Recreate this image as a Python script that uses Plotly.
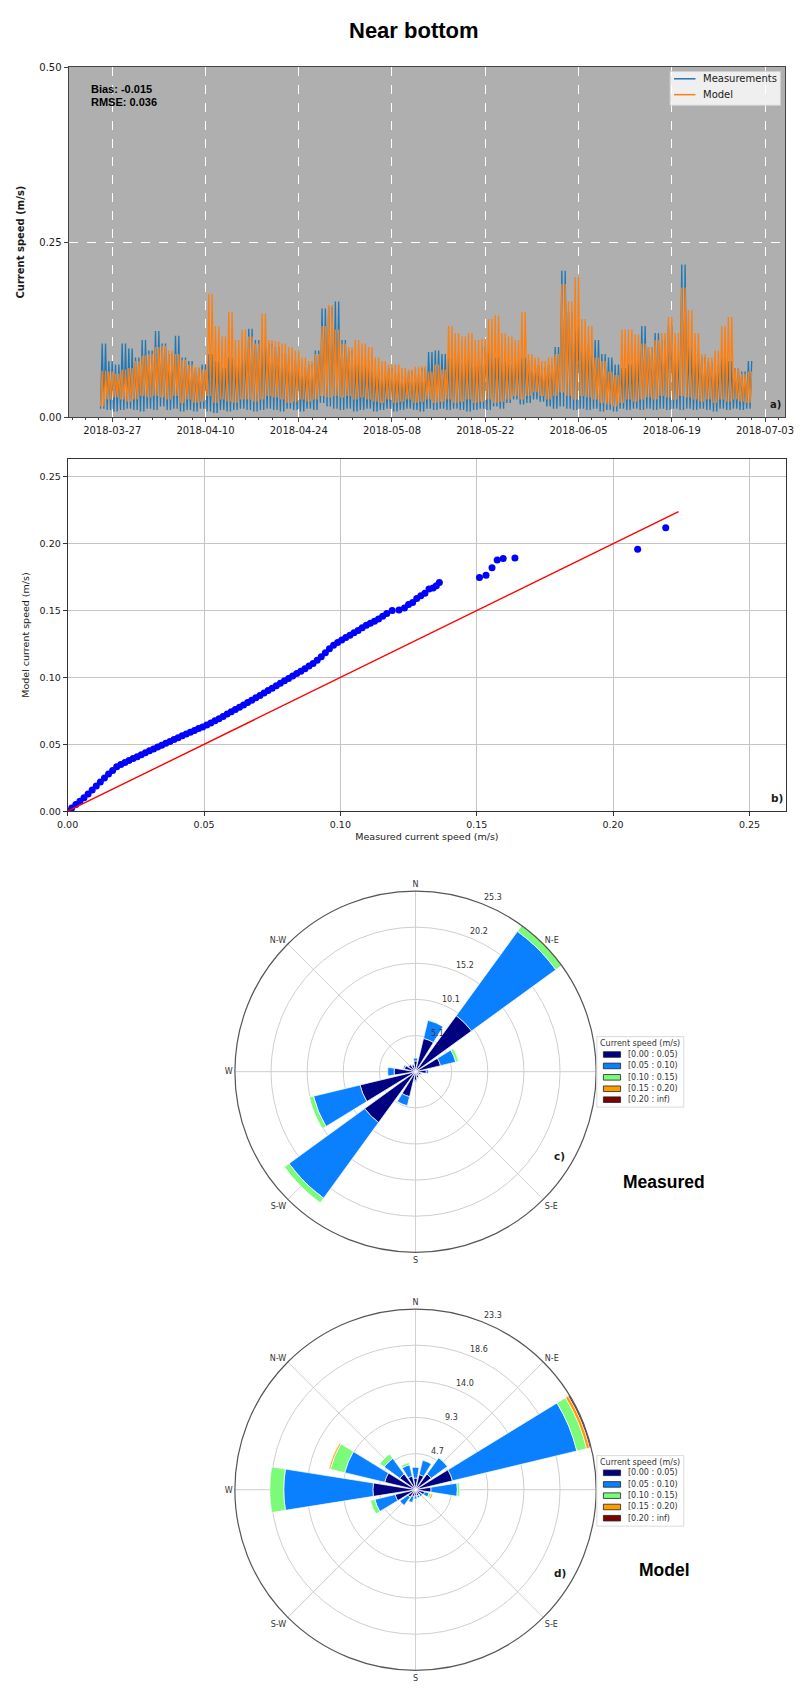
import math
import pandas as pd
import plotly.graph_objects as go

W, H = 806, 1691

# ---------------------------------------------------------------------------
# a) Near-bottom current speed, daily envelope (m/s), 2018-03-25 .. 2018-06-30
# ---------------------------------------------------------------------------
start_time = "2018-03-25 06:00"
meas_hi = [0.105, 0.080, 0.075, 0.105, 0.098, 0.085, 0.110, 0.095, 0.123, 0.105,
           0.090, 0.116, 0.085, 0.080, 0.070, 0.075, 0.090, 0.080, 0.070, 0.085,
           0.075, 0.095, 0.126, 0.110, 0.105, 0.105, 0.100, 0.090, 0.085, 0.080,
           0.070, 0.075, 0.095, 0.155, 0.157, 0.165, 0.110, 0.095, 0.080, 0.075,
           0.070, 0.065, 0.060, 0.070, 0.062, 0.058, 0.065, 0.060, 0.070, 0.093,
           0.095, 0.090, 0.085, 0.090, 0.080, 0.085, 0.080, 0.100, 0.095, 0.085,
           0.080, 0.075, 0.080, 0.085, 0.080, 0.075, 0.070, 0.075, 0.100, 0.209,
           0.150, 0.130, 0.110, 0.105, 0.110, 0.090, 0.085, 0.075, 0.070, 0.075,
           0.080, 0.130, 0.100, 0.120, 0.110, 0.130, 0.090, 0.218, 0.100, 0.090,
           0.085, 0.080, 0.075, 0.085, 0.080, 0.070, 0.065, 0.080]
meas_lo = [0.012, 0.010, 0.008, 0.010, 0.012, 0.010, 0.008, 0.012, 0.010, 0.015,
           0.010, 0.012, 0.008, 0.010, 0.008, 0.012, 0.008, 0.006, 0.010, 0.008,
           0.010, 0.012, 0.010, 0.008, 0.010, 0.012, 0.010, 0.008, 0.012, 0.010,
           0.008, 0.012, 0.010, 0.020, 0.015, 0.012, 0.010, 0.012, 0.008, 0.010,
           0.012, 0.008, 0.010, 0.012, 0.008, 0.010, 0.012, 0.010, 0.008, 0.012,
           0.010, 0.012, 0.010, 0.012, 0.010, 0.008, 0.010, 0.012, 0.010, 0.015,
           0.012, 0.020, 0.025, 0.018, 0.020, 0.025, 0.022, 0.015, 0.012, 0.015,
           0.012, 0.010, 0.012, 0.010, 0.012, 0.008, 0.010, 0.008, 0.012, 0.010,
           0.012, 0.010, 0.012, 0.010, 0.012, 0.010, 0.012, 0.010, 0.012, 0.010,
           0.012, 0.010, 0.008, 0.012, 0.010, 0.012, 0.010, 0.012]
model_hi = [0.066, 0.065, 0.062, 0.068, 0.070, 0.080, 0.088, 0.090, 0.100, 0.102,
            0.095, 0.090, 0.082, 0.075, 0.072, 0.068, 0.176, 0.130, 0.115, 0.150,
            0.110, 0.125, 0.115, 0.105, 0.148, 0.110, 0.108, 0.105, 0.100, 0.095,
            0.085, 0.080, 0.090, 0.130, 0.160, 0.125, 0.105, 0.100, 0.110, 0.105,
            0.100, 0.085, 0.080, 0.075, 0.075, 0.070, 0.068, 0.072, 0.073, 0.065,
            0.075, 0.068, 0.130, 0.120, 0.115, 0.120, 0.110, 0.112, 0.140, 0.145,
            0.120, 0.115, 0.110, 0.150, 0.090, 0.085, 0.080, 0.085, 0.090, 0.190,
            0.165, 0.200, 0.140, 0.130, 0.085, 0.080, 0.065, 0.060, 0.125, 0.125,
            0.118, 0.105, 0.100, 0.110, 0.120, 0.143, 0.120, 0.185, 0.153, 0.120,
            0.090, 0.085, 0.095, 0.130, 0.143, 0.070, 0.062, 0.065]
model_lo = [0.015, 0.025, 0.028, 0.025, 0.022, 0.025, 0.030, 0.028, 0.030, 0.028,
            0.025, 0.030, 0.020, 0.025, 0.020, 0.022, 0.030, 0.020, 0.025, 0.022,
            0.020, 0.025, 0.025, 0.022, 0.025, 0.030, 0.028, 0.025, 0.020, 0.022,
            0.025, 0.022, 0.025, 0.030, 0.028, 0.030, 0.028, 0.030, 0.025, 0.028,
            0.025, 0.022, 0.020, 0.025, 0.020, 0.022, 0.025, 0.020, 0.022, 0.025,
            0.020, 0.022, 0.025, 0.020, 0.022, 0.025, 0.020, 0.022, 0.025, 0.020,
            0.022, 0.025, 0.030, 0.025, 0.030, 0.035, 0.030, 0.025, 0.030, 0.035,
            0.030, 0.025, 0.030, 0.028, 0.025, 0.020, 0.018, 0.015, 0.020, 0.025,
            0.022, 0.025, 0.028, 0.025, 0.030, 0.028, 0.025, 0.030, 0.028, 0.025,
            0.022, 0.025, 0.020, 0.025, 0.022, 0.025, 0.022, 0.020]
date_ticks = ["2018-03-27", "2018-04-10", "2018-04-24", "2018-05-08",
              "2018-05-22", "2018-06-05", "2018-06-19", "2018-07-03"]
bias_text = "Bias: -0.015"
rmse_text = "RMSE: 0.036"

# ---------------------------------------------------------------------------
# b) Quantile pairs: measured vs model current speed (m/s)
# ---------------------------------------------------------------------------
qq_meas = [0.000, 0.0015, 0.003, 0.0045, 0.006, 0.0075, 0.009, 0.0105, 0.012, 0.0135,
           0.015, 0.0165, 0.018, 0.0195, 0.021, 0.0225, 0.024, 0.0255, 0.027, 0.0285,
           0.030, 0.0315, 0.033, 0.0345, 0.036, 0.0375, 0.039, 0.0405, 0.042, 0.0435,
           0.045, 0.0465, 0.048, 0.0495, 0.051, 0.0525, 0.054, 0.0555, 0.057, 0.0585,
           0.060, 0.0615, 0.063, 0.0645, 0.066, 0.0675, 0.069, 0.0705, 0.072, 0.0735,
           0.075, 0.0765, 0.078, 0.0795, 0.081, 0.0825, 0.084, 0.0855, 0.087, 0.0885,
           0.090, 0.0915, 0.093, 0.0945, 0.096, 0.0975, 0.099, 0.1005, 0.102, 0.1035,
           0.105, 0.1065, 0.108, 0.1095, 0.111, 0.1125, 0.114, 0.1155, 0.117, 0.119,
           0.1215, 0.1235, 0.125, 0.1265, 0.128, 0.1295, 0.131, 0.1325, 0.134, 0.1352,
           0.1363, 0.151, 0.1534, 0.1556, 0.1575, 0.1597, 0.164, 0.209, 0.2193]
qq_model = [0.000, 0.0025, 0.005, 0.0075, 0.010, 0.0128, 0.0158, 0.0188, 0.0218, 0.0248,
            0.0278, 0.0305, 0.0332, 0.0350, 0.0365, 0.0380, 0.0394, 0.0408, 0.0423, 0.0438,
            0.0452, 0.0466, 0.0480, 0.0494, 0.0508, 0.0522, 0.0536, 0.0550, 0.0564, 0.0578,
            0.0591, 0.0604, 0.0618, 0.0630, 0.0645, 0.0660, 0.0676, 0.0692, 0.0709, 0.0726,
            0.0743, 0.0760, 0.0777, 0.0795, 0.0812, 0.0830, 0.0848, 0.0866, 0.0884, 0.0902,
            0.0920, 0.0938, 0.0956, 0.0975, 0.0993, 0.1011, 0.1029, 0.1047, 0.1066, 0.1085,
            0.1105, 0.1128, 0.1155, 0.1185, 0.1215, 0.1240, 0.1262, 0.1280, 0.1298, 0.1316,
            0.1334, 0.1352, 0.1372, 0.1390, 0.1405, 0.1420, 0.1438, 0.1458, 0.1478, 0.1500,
            0.1505, 0.1520, 0.1545, 0.1560, 0.1590, 0.1610, 0.1630, 0.1662, 0.1668, 0.1685,
            0.1710, 0.1748, 0.1765, 0.1820, 0.1878, 0.1890, 0.1894, 0.1958, 0.2120]
one_to_one = [0.0, 0.224]
speed_ticks = [0.0, 0.05, 0.10, 0.15, 0.20, 0.25]

# ---------------------------------------------------------------------------
# c) / d) Current roses: frequency (%) per direction sector and speed class
# ---------------------------------------------------------------------------
directions = [0, 22.5, 45, 67.5, 90, 112.5, 135, 157.5,
              180, 202.5, 225, 247.5, 270, 292.5, 315, 337.5]
compass_angles = [0, 45, 90, 135, 180, 225, 270, 315]
compass_labels = ["N", "N-E", "E", "S-E", "S", "S-W", "W", "N-W"]
speed_classes = ["[0.00 : 0.05)", "[0.05 : 0.10)", "[0.10 : 0.15)",
                 "[0.15 : 0.20)", "[0.20 : inf)"]
class_colors = ["#000080", "#0a80ff", "#7cfa79", "#ff9a00", "#800000"]

meas_rose_0 = [1.5, 4.8, 9.7, 3.6, 1.5, 0.8, 0.6, 0.9, 1.2, 3.6, 8.8, 8.0, 3.0, 1.6, 1.2, 1.0]
meas_rose_1 = [0.4, 2.6, 14.6, 2.2, 0.3, 0.1, 0.0, 0.1, 0.2, 1.3, 13.1, 6.7, 0.9, 0.2, 0.1, 0.1]
meas_rose_2 = [0.0, 0.0, 1.0, 0.4, 0.0, 0.0, 0.0, 0.0, 0.0, 0.0, 0.8, 0.6, 0.0, 0.0, 0.0, 0.0]
meas_rose_3 = [0.0] * 16
meas_rose_4 = [0.0] * 16
meas_rmax = 25.3
meas_rticks = [5.06, 10.12, 15.18, 20.24, 25.3]
meas_rlabels = ["5.1", "10.1", "15.2", "20.2", "25.3"]

model_rose_0 = [1.5, 2.0, 2.5, 4.9, 2.0, 1.2, 0.8, 0.8, 0.8, 0.9, 1.2, 2.7, 5.5, 4.1, 2.5, 1.8]
model_rose_1 = [1.4, 1.9, 2.6, 16.5, 3.4, 0.6, 0.3, 0.3, 0.4, 0.8, 1.3, 2.7, 11.5, 5.3, 2.5, 1.5]
model_rose_2 = [0.0, 0.0, 0.1, 1.3, 0.3, 0.3, 0.0, 0.0, 0.0, 0.0, 0.0, 0.6, 1.8, 1.9, 0.7, 0.3]
model_rose_3 = [0.0, 0.0, 0.0, 0.4, 0.0, 0.2, 0.0, 0.0, 0.0, 0.0, 0.0, 0.0, 0.0, 0.2, 0.0, 0.0]
model_rose_4 = [0.0, 0.0, 0.0, 0.2, 0.0, 0.0, 0.0, 0.0, 0.0, 0.0, 0.0, 0.0, 0.0, 0.0, 0.0, 0.0]
model_rmax = 23.3
model_rticks = [4.66, 9.32, 13.98, 18.64, 23.3]
model_rlabels = ["4.7", "9.3", "14.0", "18.6", "23.3"]


def px(x):
    return x / W


def py(y):
    return 1 - y / H


FONT = "DejaVu Sans"
ARIAL = "Liberation Sans"
TXT = "#1a1a1a"

# rose geometry (pixels): centre x, centre y, radius
ROSE_CX, ROSE_R = 414.3, 185
ROSE_C_CY, ROSE_D_CY = 1073.3, 1494.3
RLABEL_ANGLE = 22.5  # degrees clockwise from north

# time series: tidal cycle low/high every six hours
times = pd.date_range(start_time, periods=len(meas_hi) * 4, freq="6h")
meas_series = [v for lo, hi in zip(meas_lo, meas_hi) for v in (lo, hi, lo, hi)]
model_series = [v for lo, hi in zip(model_lo, model_hi) for v in (lo, hi, lo, hi)]

fig = go.Figure()
fig.add_trace(go.Scatter(x=times, y=meas_series, mode="lines", name="Measurements",
                         line=dict(color="#1f77b4", width=1.3), xaxis="x", yaxis="y",
                         showlegend=False))
fig.add_trace(go.Scatter(x=times, y=model_series, mode="lines", name="Model",
                         line=dict(color="#ff7f0e", width=1.3), xaxis="x", yaxis="y",
                         showlegend=False))

fig.add_trace(go.Scatter(x=qq_meas, y=qq_model, mode="markers",
                         marker=dict(color="#0000ff", size=7, line=dict(width=0)),
                         xaxis="x2", yaxis="y2", showlegend=False))
fig.add_trace(go.Scatter(x=one_to_one, y=one_to_one, mode="lines",
                         line=dict(color="#ff0000", width=1.4),
                         xaxis="x2", yaxis="y2", showlegend=False))

meas_rose = [meas_rose_0, meas_rose_1, meas_rose_2, meas_rose_3, meas_rose_4]
model_rose = [model_rose_0, model_rose_1, model_rose_2, model_rose_3, model_rose_4]
for subplot, rose in (("polar", meas_rose), ("polar2", model_rose)):
    for name, color, freq in zip(speed_classes, class_colors, rose):
        fig.add_trace(go.Barpolar(r=freq, theta=directions, width=18, name=name,
                                  marker=dict(color=color, line=dict(color="white", width=0.7)),
                                  subplot=subplot, showlegend=False))

tick_font = dict(family=FONT, size=10, color=TXT)
small_font = dict(family=FONT, size=9.5, color=TXT)

layout = dict(
    width=W, height=H, margin=dict(l=0, r=0, t=0, b=0),
    paper_bgcolor="white", plot_bgcolor="white",
    xaxis=dict(domain=[px(59), px(793)], anchor="y", type="date",
               range=["2018-03-20 11:00", "2018-07-06 01:00"],
               tickmode="array", tickvals=date_ticks, tickformat="%Y-%m-%d",
               showgrid=True, gridcolor="white", griddash="dash", gridwidth=1,
               ticks="outside", ticklen=4, tickcolor="#444", tickfont=tick_font,
               showline=True, linecolor="#444", linewidth=1, mirror=True, zeroline=False,
               minor=dict(ticks="outside", ticklen=2, tickcolor="#444",
                          dtick=2 * 86400000, tick0="2018-03-27", showgrid=False)),
    yaxis=dict(domain=[py(414), py(61.5)], anchor="x", range=[0, 0.5],
               tickmode="array", tickvals=[0, 0.25, 0.5], tickformat=".2f",
               showgrid=True, gridcolor="white", griddash="dash", gridwidth=1,
               ticks="outside", ticklen=4, tickcolor="#444", tickfont=tick_font,
               showline=True, linecolor="#444", linewidth=1, mirror=True, zeroline=False,
               title=dict(text="<b>Current speed (m/s)</b>", font=dict(family=FONT, size=10, color=TXT),
                          standoff=12)),
    xaxis2=dict(domain=[px(58), px(794)], anchor="y2", range=[0, 0.2635],
                tickmode="array", tickvals=speed_ticks, tickformat=".2f",
                showgrid=True, gridcolor="#c4c4c4", gridwidth=1,
                ticks="outside", ticklen=4, tickcolor="#333", tickfont=small_font,
                showline=True, linecolor="#333", linewidth=1, mirror=True, zeroline=False,
                title=dict(text="Measured current speed (m/s)", font=small_font, standoff=4)),
    yaxis2=dict(domain=[py(811), py(456)], anchor="x2", range=[0, 0.2635],
                tickmode="array", tickvals=speed_ticks, tickformat=".2f",
                showgrid=True, gridcolor="#c4c4c4", gridwidth=1,
                ticks="outside", ticklen=4, tickcolor="#333", tickfont=small_font,
                showline=True, linecolor="#333", linewidth=1, mirror=True, zeroline=False,
                title=dict(text="Model current speed (m/s)", font=small_font, standoff=8)),
)

rose_font = dict(family=FONT, size=8, color="#333")


def polar_layout(cy, rmax, rticks):
    return dict(
        domain=dict(x=[px(ROSE_CX - ROSE_R), px(ROSE_CX + ROSE_R)],
                    y=[py(cy + ROSE_R), py(cy - ROSE_R)]),
        bgcolor="white", barmode="stack",
        angularaxis=dict(rotation=90, direction="clockwise", thetaunit="degrees",
                         tickmode="array", tickvals=compass_angles, ticktext=compass_labels,
                         showgrid=True, gridcolor="#cfcfcf", gridwidth=1,
                         showline=True, linecolor="#555", linewidth=1.2,
                         ticks="", tickfont=rose_font),
        radialaxis=dict(range=[0, rmax], tickmode="array", tickvals=rticks,
                        showticklabels=False, showline=False, ticks="",
                        showgrid=True, gridcolor="#cfcfcf", gridwidth=1),
    )


layout["polar"] = polar_layout(ROSE_C_CY, meas_rmax, meas_rticks)
layout["polar2"] = polar_layout(ROSE_D_CY, model_rmax, model_rticks)

shapes = []
annotations = []

# grey face of the time-series panel
shapes.append(dict(type="rect", xref="x domain", yref="y domain", x0=0, x1=1, y0=0, y1=1,
                   fillcolor="#afafaf", line=dict(width=0), layer="below"))


def text(x, y, s, size, family=FONT, bold=False, xanchor="center", yanchor="middle",
         color=TXT, textangle=0):
    annotations.append(dict(
        xref="paper", yref="paper", x=px(x), y=py(y), text=f"<b>{s}</b>" if bold else s,
        showarrow=False, xanchor=xanchor, yanchor=yanchor, textangle=textangle,
        font=dict(family=family, size=size, color=color)))


text(413, 25, "Near bottom", 22, family=ARIAL, bold=True, color="black")
text(80, 83.5, bias_text, 11, family=ARIAL, bold=True, xanchor="left", color="black")
text(80, 96.8, rmse_text, 11, family=ARIAL, bold=True, xanchor="left", color="black")
text(783, 401, "a)", 10, bold=True)
text(784, 798, "b)", 10.5, bold=True)
text(562, 1158, "c)", 10.5, bold=True)
text(562, 1578, "d)", 10.5, bold=True)
text(669, 1184, "Measured", 17.5, family=ARIAL, bold=True, color="black")
text(669, 1575, "Model", 17.5, family=ARIAL, bold=True, color="black")

# radial frequency labels, upright, beside the 22.5-degree spoke
for cy, rmax, rticks, rlabels in ((ROSE_C_CY, meas_rmax, meas_rticks, meas_rlabels),
                                  (ROSE_D_CY, model_rmax, model_rticks, model_rlabels)):
    a = math.radians(RLABEL_ANGLE)
    for rv, lab in zip(rticks, rlabels):
        rr = rv / rmax * ROSE_R
        text(ROSE_CX + rr * math.sin(a) + 8.5, cy - rr * math.cos(a) - 4.5, lab, 8, color="#333")

# legend of the time-series panel
shapes.append(dict(type="rect", xref="paper", yref="paper", x0=px(675), x1=px(788),
                   y0=py(100), y1=py(66), fillcolor="rgba(255,255,255,0.8)",
                   line=dict(color="#d0d0d0", width=1)))
for yy, name, color in ((73.3, "Measurements", "#1f77b4"), (89.3, "Model", "#ff7f0e")):
    shapes.append(dict(type="line", xref="paper", yref="paper", x0=px(679), x1=px(701),
                       y0=py(yy), y1=py(yy), line=dict(color=color, width=1.5)))
    text(707, yy, name, 10, xanchor="left")


# legends of the roses
def rose_legend(top, rows):
    shapes.append(dict(type="rect", xref="paper", yref="paper", x0=px(600), x1=px(689),
                       y0=py(top + 71), y1=py(top), fillcolor="white",
                       line=dict(color="#dadada", width=1)))
    text(644.5, top + 6.5, "Current speed (m/s)", 8, color="#333")
    for i, (name, color) in enumerate(zip(speed_classes, class_colors)):
        yy = rows[i]
        shapes.append(dict(type="rect", xref="paper", yref="paper", x0=px(606.7), x1=px(624.3),
                           y0=py(yy + 2.8), y1=py(yy - 2.8), fillcolor=color,
                           line=dict(color="#222", width=0.8)))
        text(629.5, yy, name, 8, xanchor="left", color="#333")


rose_legend(1038, [1056, 1067.5, 1079, 1090.5, 1101.5])
rose_legend(1460, [1477.3, 1489, 1500.3, 1511.7, 1523])

layout["shapes"] = shapes
layout["annotations"] = annotations
fig.update_layout(**layout)

fig.write_html("out.html")
